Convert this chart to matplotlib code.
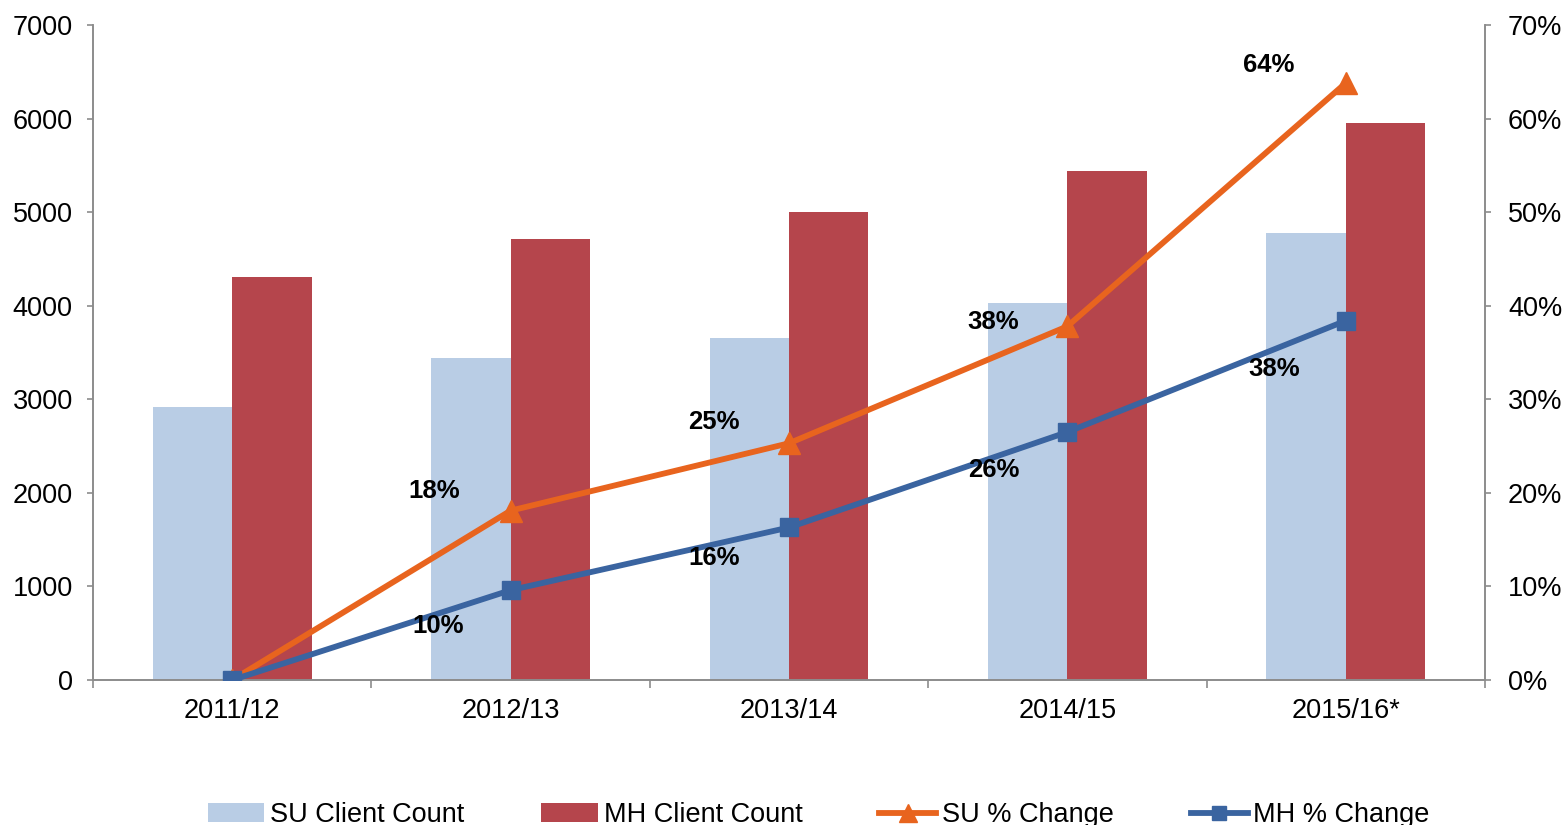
from matplotlib import pyplot as plt
from matplotlib.ticker import FuncFormatter, MultipleLocator
import numpy as np

plt.rcParams['font.family'] = ['Liberation Sans', 'DejaVu Sans']

years = ['2011/12', '2012/13', '2013/14', '2014/15', '2015/16*']
su_count = [2920, 3440, 3655, 4030, 4775]
mh_count = [4305, 4715, 5000, 5440, 5955]
su_pct = [0, 18.1, 25.3, 37.8, 63.8]
mh_pct = [0, 9.6, 16.3, 26.5, 38.4]

c_su = '#B9CDE5'
c_mh = '#B5454C'
c_su_line = '#E8641E'
c_mh_line = '#3A64A0'
grey = '#8C8C8C'

fig = plt.figure(figsize=(15.65, 8.25), dpi=100)
ax = fig.add_axes([93/1565, 1-680/825, (1485-93)/1565, 655/825])
ax2 = ax.twinx()

x = np.arange(len(years))
w = 0.285
b1 = ax.bar(x - w/2, su_count, w, color=c_su, label='SU Client Count', zorder=2)
b2 = ax.bar(x + w/2, mh_count, w, color=c_mh, label='MH Client Count', zorder=2)

l1, = ax2.plot(x, su_pct, color=c_su_line, lw=4.2, marker='^', ms=16,
               label='SU % Change', zorder=3)
l2, = ax2.plot(x, mh_pct, color=c_mh_line, lw=4.2, marker='s', ms=13,
               label='MH % Change', zorder=3)

# label offsets in pixels (x, y)
su_off = [None, (-76, 20), (-75, 21), (-74, 4), (-77, 18)]
mh_off = [None, (-72, -36), (-75, -31), (-74, -38), (-72, -48)]
for i in range(1, len(years)):
    ax2.annotate(f'{su_pct[i]:.0f}%', (x[i], su_pct[i]), xytext=su_off[i],
                 textcoords='offset pixels', ha='center', va='center',
                 fontsize=18.5, fontweight='bold', zorder=4)
    ax2.annotate(f'{mh_pct[i]:.0f}%', (x[i], mh_pct[i]), xytext=mh_off[i],
                 textcoords='offset pixels', ha='center', va='center',
                 fontsize=18.5, fontweight='bold', zorder=4)

ax.set_xlim(-0.5, 4.5)
ax.set_ylim(0, 7000)
ax2.set_ylim(0, 70)
ax.yaxis.set_major_locator(MultipleLocator(1000))
ax2.yaxis.set_major_locator(MultipleLocator(10))
ax2.yaxis.set_major_formatter(FuncFormatter(lambda v, p: f'{v:.0f}%'))

ax.set_xticks(x)
ax.set_xticklabels(years)
ax.set_xticks(np.arange(-0.5, 5, 1), minor=True)
ax.tick_params(axis='x', which='major', length=0, labelsize=19.5, pad=13)
ax.tick_params(axis='x', which='minor', length=6, color=grey, width=1.2)
ax.tick_params(axis='y', length=4.5, color=grey, width=1.2, labelsize=19.5, pad=10)
ax2.tick_params(axis='y', length=4.5, color=grey, width=1.2, labelsize=19.5, pad=12)

for a in (ax, ax2):
    a.spines['top'].set_visible(False)
    for s in ('left', 'right', 'bottom'):
        a.spines[s].set_color(grey)
        a.spines[s].set_linewidth(1.2)

fig.legend([b1, b2, l1, l2],
           ['SU Client Count', 'MH Client Count', 'SU % Change', 'MH % Change'],
           loc='center', bbox_to_anchor=(0.523, 0.012), ncol=4, frameon=False,
           fontsize=19.5, columnspacing=2.85, handlelength=2.1, handletextpad=0.2,
           markerscale=0.8)

fig.savefig('out.png', dpi=100)
